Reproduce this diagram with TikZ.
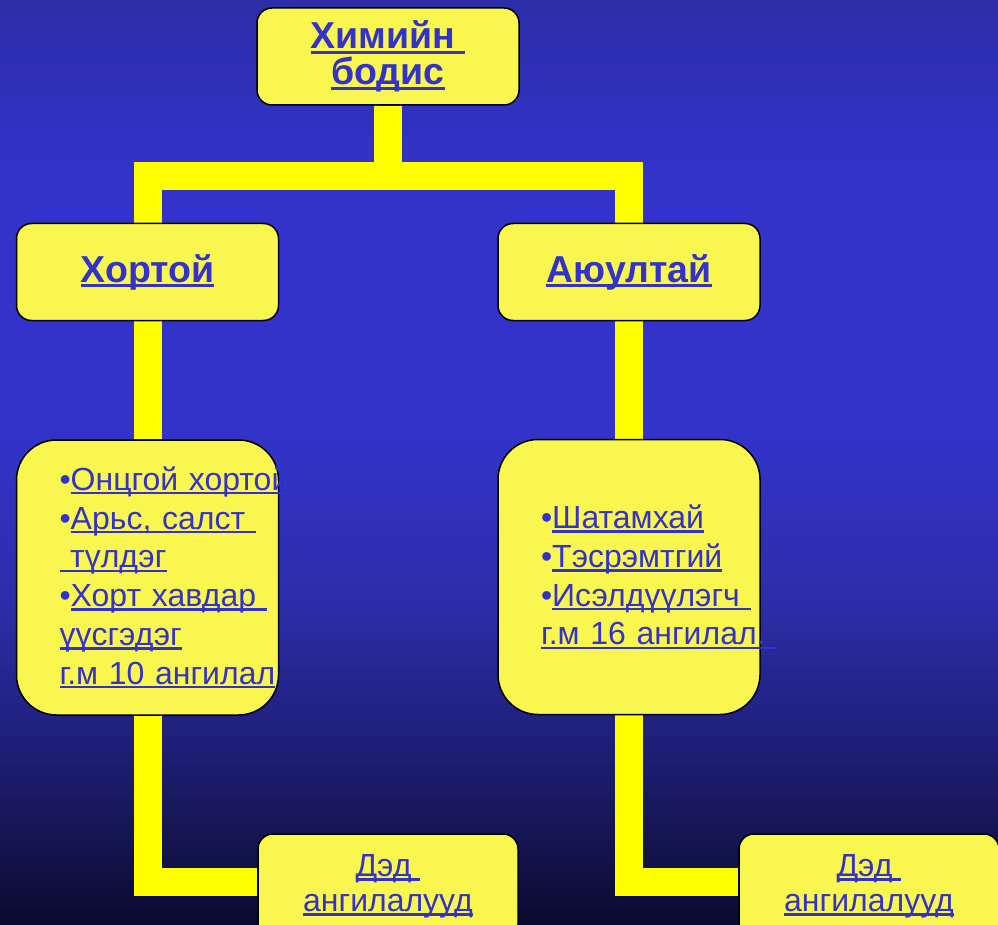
\documentclass[tikz,border=0pt]{standalone}
\usepackage{fontspec}
\setmainfont{Liberation Sans}

\definecolor{linkblue}{RGB}{51,51,204}
\definecolor{boxfill}{RGB}{250,246,80}
\definecolor{baryellow}{RGB}{255,255,0}
\definecolor{sky0}{RGB}{10,10,45}
\definecolor{sky1}{RGB}{22,22,85}
\definecolor{sky2}{RGB}{33,33,130}
\definecolor{sky3}{RGB}{45,45,170}
\definecolor{sky4}{RGB}{51,51,204}
\definecolor{sky5}{RGB}{44,46,168}

\pgfdeclarelayer{backdrop}
\pgfdeclarelayer{bars}
\pgfsetlayers{backdrop,bars,main}

% underlined link text, line runs through the descenders
\newsavebox\lnkbox
\newcommand\lnk[1]{\leavevmode\sbox\lnkbox{#1}\rlap{\rule[-0.13em]{\wd\lnkbox}{0.075em}}\usebox\lnkbox}

\tikzset{
  card/.style={draw=black, line width=1.5pt, fill=boxfill, text=linkblue,
    rounded corners=15pt, minimum width=262pt, minimum height=97pt,
    inner sep=0pt, align=center},
  titlecard/.style={card, font=\fontsize{37.5}{36}\selectfont\bfseries},
  listcard/.style={card, rounded corners=40pt, minimum height=275pt,
    text width=176pt, align=left, font=\fontsize{32}{38.8}\selectfont},
  subcard/.style={card, minimum width=260pt, minimum height=105pt,
    font=\fontsize{32}{35}\selectfont},
  bar/.style={draw=baryellow, line width=28pt},
}

\begin{document}
\begin{tikzpicture}[x=1pt,y=-1pt]
  \useasboundingbox (0,0) rectangle (998,925);
  \clip (0,0) rectangle (998,925);

  \begin{pgfonlayer}{backdrop}
    \foreach \ya/\yb/\ca/\cb in {0/180/sky5/sky4, 180/420/sky4/sky4,
        420/600/sky4/sky3, 600/720/sky3/sky2, 720/830/sky2/sky1, 830/925/sky1/sky0}
      \fill[top color=\ca, bottom color=\cb] (0,\ya-0.5) rectangle (998,\yb+0.5);
  \end{pgfonlayer}

  % top level
  \node[titlecard] (chem) at (388,56.5) {\lnk{Химийн\ }\\\lnk{бодис}};

  % two groups
  \node[titlecard] (toxic) at (147.5,272) {\lnk{Хортой}};
  \node[titlecard] (hazard) at (629,272) {\lnk{Аюултай}};

  \node[listcard] (toxiclist) at (147.5,577.5) {%
    •\lnk{Онцгой хортой}\\
    •\lnk{Арьс, салст\ }\\
    \lnk{\ түлдэг}\\
    •\lnk{Хорт хавдар\ }\\
    \lnk{үүсгэдэг}\\
    \lnk{г.м 10 ангилал}};
  \node[listcard] (hazardlist) at (629,577) {%
    •\lnk{Шатамхай}\\
    •\lnk{Тэсрэмтгий}\\
    •\lnk{Исэлдүүлэгч\ }\\
    \lnk{г.м 16 ангилал.\ }};

  % sub classes
  \node[subcard] (toxicsub) at (388,886.5) {\lnk{Дэд\ }\\\lnk{ангилалууд}};
  \node[subcard] (hazardsub) at (869,886.5) {\lnk{Дэд\ }\\\lnk{ангилалууд}};

  \begin{pgfonlayer}{bars}
    \draw[bar] (chem.south) -- ++(0,70) -| (toxic.north);
    \draw[bar] (chem.south) -- ++(0,70) -| (hazard.north);
    \draw[bar] (toxic.south) -- (toxiclist.north);
    \draw[bar] (hazard.south) -- (hazardlist.north);
    \draw[bar] (toxiclist.south) |- ([yshift=4.5pt]toxicsub.west);
    \draw[bar] (hazardlist.south) |- ([yshift=4.5pt]hazardsub.west);
  \end{pgfonlayer}
\end{tikzpicture}
\end{document}
